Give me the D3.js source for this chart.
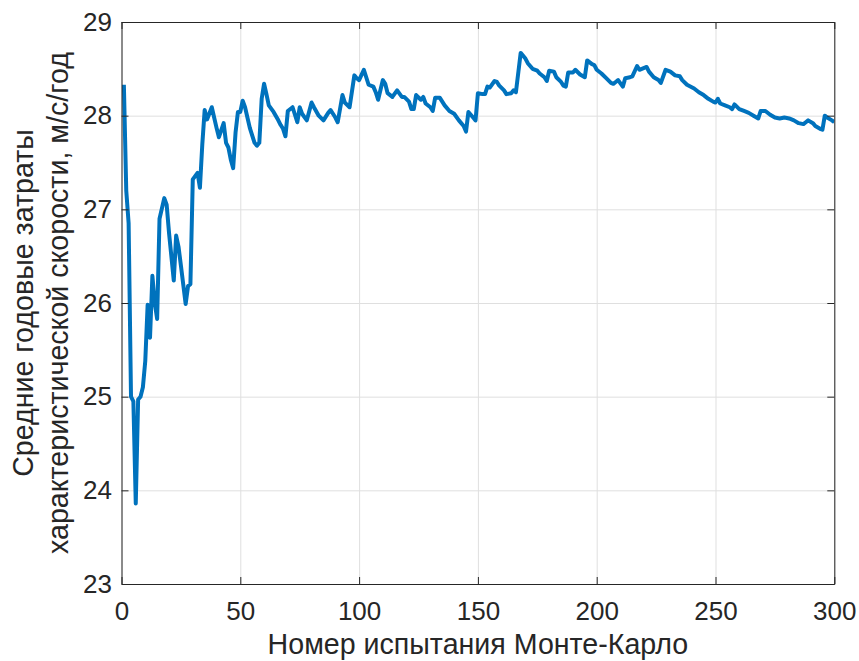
<!DOCTYPE html>
<html>
<head>
<meta charset="utf-8">
<script src="https://cdn.jsdelivr.net/npm/d3@7"></script>
<style>
  body { margin: 0; background: #fff; }
  svg { display: block; font-family: "Liberation Sans", Arial, sans-serif; }
  .axis text { font-size: 26px; fill: #262626; }
  .axis path, .axis line { stroke: #262626; }
  .grid line { stroke: #dfdfdf; }
  .grid path { stroke: none; }
  .line { fill: none; stroke: #0072bd; stroke-width: 4px; stroke-linejoin: round; }
  .label { font-size: 28.6px; fill: #262626; }
</style>
</head>
<body>
<svg width="859" height="661"></svg>
<script>
/*
Data: trial number and running mean value
*/
var trials = [1,2,3,4,5,6,7,8,9,10,11,12,13,14,15,16,18,19,20,22,23,24,25,27,28,29,30,32,33,34,35,36,38,40,41,43,44,45,46,47,48,49,50,
  51,52,54,56,57,58,59,60,61,62,64,66,67,68,69,70,72,74,75,76,78,80,81,83,85,87,88,90,91,93,94,96,98,99,100,
  102,104,106,107,108,110,111,112,114,116,118,119,121,122,123,124,126,127,128,130,131,132,134,136,138,140,142,144,145,146,148,149,150,
  152,153,154,155,157,158,159,161,162,164,165,166,168,170,171,173,175,176,178,179,180,182,183,185,186,187,188,190,191,193,195,196,198,199,200,
  202,204,206,207,208,209,211,212,214,215,217,218,220,221,222,224,226,227,229,231,233,235,236,238,241,243,245,247,249,250,
  251,252,254,256,257,258,260,262,264,266,268,269,271,273,275,277,279,281,283,285,287,288,289,291,292,294,295,296,297,299,300];

var meanCost = [28.33,27.2,26.85,25.0,24.95,23.86,24.97,25.0,25.1,25.38,25.98,25.63,26.29,26.0,25.83,26.9,27.12,27.05,26.75,26.24,26.72,26.6,26.4,25.99,26.18,26.2,27.32,27.39,27.23,27.69,28.06,27.96,28.09,27.87,27.77,27.92,27.71,27.66,27.53,27.44,27.82,28.04,28.04,
  28.16,28.09,27.87,27.71,27.68,27.71,28.18,28.34,28.23,28.11,28.04,27.95,27.9,27.86,27.78,28.05,28.09,27.93,28.09,28.02,27.95,28.14,28.09,28.0,27.95,28.03,28.06,27.98,27.93,28.22,28.14,28.09,28.43,28.4,28.38,
  28.49,28.33,28.31,28.25,28.17,28.38,28.34,28.24,28.2,28.27,28.2,28.2,28.15,28.07,28.07,28.22,28.17,28.2,28.13,28.09,28.05,28.19,28.19,28.11,28.05,28.02,27.95,27.89,27.83,28.04,27.98,27.95,28.24,
  28.23,28.23,28.31,28.3,28.37,28.36,28.32,28.27,28.23,28.24,28.27,28.25,28.67,28.61,28.56,28.5,28.48,28.45,28.41,28.37,28.48,28.47,28.41,28.36,28.32,28.31,28.46,28.46,28.49,28.44,28.41,28.59,28.55,28.54,28.49,
  28.45,28.4,28.35,28.34,28.36,28.38,28.31,28.4,28.41,28.42,28.53,28.49,28.51,28.52,28.47,28.41,28.38,28.35,28.49,28.47,28.43,28.42,28.38,28.33,28.29,28.25,28.22,28.18,28.15,28.14,
  28.18,28.13,28.11,28.09,28.07,28.12,28.07,28.05,28.03,28.0,27.97,28.05,28.05,28.01,27.98,27.97,27.98,27.97,27.95,27.92,27.91,27.93,27.95,27.92,27.89,27.86,27.85,28.0,27.98,27.95,27.93];

var xTicks = [0, 50, 100, 150, 200, 250, 300],
    yTicks = [23, 24, 25, 26, 27, 28, 29];

var xTitle = "Номер испытания Монте-Карло",
    yTitle = ["Средние годовые затраты", "характеристической скорости, м/с/год"];

/*
SVG/Group/Margin Declarations
*/
var svg = d3.select("svg"),
    margin = {top: 22, right: 24.7, bottom: 77, left: 121.5},
    width = svg.attr("width") - margin.left - margin.right,
    height = svg.attr("height") - margin.top - margin.bottom,
    g = svg.append("g").attr("transform", "translate(" + margin.left + "," + margin.top + ")");

var xScale = d3.scaleLinear().domain([0, 300]).range([0, width]),
    yScale = d3.scaleLinear().domain([23, 29]).range([height, 0]);

var data = trials.map(function(t, i) { return {trial: t, value: meanCost[i]}; });

var line = d3.line()
    .x(function(d) { return xScale(d.trial); })
    .y(function(d) { return yScale(d.value); });

/*
Gridlines first so they sit under everything
*/
g.append("g")
    .attr("class", "grid grid-x")
    .attr("transform", "translate(0," + height + ")")
    .call(d3.axisBottom(xScale).tickValues(xTicks).tickSize(-height).tickFormat(""));

g.append("g")
    .attr("class", "grid grid-y")
    .call(d3.axisLeft(yScale).tickValues(yTicks).tickSize(-width).tickFormat(""));

// the data line, clipped to the box
svg.append("clipPath").attr("id", "clip")
  .append("rect").attr("width", width).attr("height", height);

g.append("path")
    .datum(data)
    .attr("class", "line")
    .attr("clip-path", "url(#clip)")
    .attr("d", line);

/*
Box axes: ticks point inwards on all four sides
*/
g.append("g")
    .attr("class", "axis axis--x")
    .attr("transform", "translate(0," + height + ")")
    .call(d3.axisBottom(xScale).tickValues(xTicks).tickFormat(d3.format("d"))
        .tickSizeInner(-7).tickSizeOuter(0).tickPadding(18));

g.append("g")
    .attr("class", "axis axis--y")
    .call(d3.axisLeft(yScale).tickValues(yTicks).tickFormat(d3.format("d"))
        .tickSizeInner(-7).tickSizeOuter(0).tickPadding(9.5));

g.append("g")
    .attr("class", "axis axis--top")
    .call(d3.axisTop(xScale).tickValues(xTicks).tickSizeInner(-7).tickSizeOuter(0).tickFormat(""));

g.append("g")
    .attr("class", "axis axis--right")
    .attr("transform", "translate(" + width + ",0)")
    .call(d3.axisRight(yScale).tickValues(yTicks).tickSizeInner(-7).tickSizeOuter(0).tickFormat(""));

// axis titles (kept just inside the bottom edge)
svg.append("text")
    .attr("class", "label")
    .attr("x", margin.left + width / 2)
    .attr("y", 654)
    .attr("text-anchor", "middle")
    .text(xTitle);

svg.selectAll(".ylabel")
    .data(yTitle)
    .enter().append("text")
    .attr("class", "label ylabel")
    .attr("text-anchor", "middle")
    .attr("transform", function(d, i) { return "translate(" + (33.3 + i * 34.5) + "," + (margin.top + height / 2) + ")rotate(-90)"; })
    .text(function(d) { return d; });
</script>
</body>
</html>
